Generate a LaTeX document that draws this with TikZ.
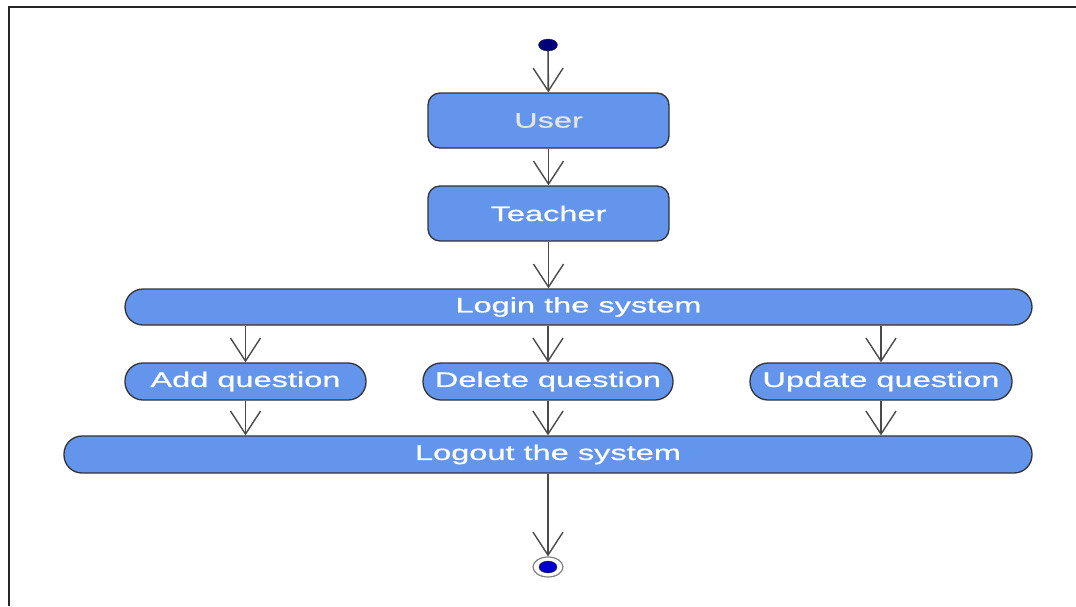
\documentclass[tikz,border=0pt]{standalone}
\usepackage{fontspec}
\newfontfamily\boxfont[FakeStretch=1.55,FakeBold=0.6]{Liberation Sans}
\usetikzlibrary{arrows.meta,shapes.geometric}
\definecolor{boxblue}{HTML}{6495ED}
\definecolor{edgegray}{HTML}{333333}
\definecolor{linegray}{HTML}{4A4A4A}
\definecolor{startnavy}{HTML}{00007A}
\definecolor{endblue}{HTML}{0000CC}
\newcommand\boxlabel[1]{\raisebox{-2pt}{#1}}
\begin{document}
\begin{tikzpicture}[x=1pt,y=-1pt,
  actbox/.style={draw=edgegray, line width=1.3pt, fill=boxblue, rounded corners=12pt,
    text=white, font=\boxfont\fontsize{21}{25}\selectfont, inner sep=0pt, anchor=center},
  pill/.style={actbox, rounded corners=18pt},
  arr/.style={draw=linegray, line width=1.6pt,
    -{Straight Barb[length=23pt,width=30pt,line width=1.4pt]}}
]
\useasboundingbox (0,0) rectangle (1076,606);
% frame
\draw[line width=2.6pt, black!85] (1076,7) -- (9,7) -- (9,606);

% start and end markers
\node[ellipse, draw=edgegray, fill=startnavy, minimum width=19pt, minimum height=12pt, inner sep=0pt] (start) at (548,45) {};
\node[ellipse, draw=gray, line width=1.2pt, fill=white, minimum width=30pt, minimum height=20pt, inner sep=0pt] (finish) at (548,567) {};
\node[ellipse, draw=edgegray, fill=endblue, minimum width=18pt, minimum height=12pt, inner sep=0pt] (finishdot) at (548,567) {};

% activities
\node[actbox, minimum width=241pt, minimum height=55pt, text=gray!20] (user) at (548.5,120.5) {\boxlabel{User}};
\node[actbox, minimum width=241pt, minimum height=55pt] (teacher) at (548.5,213.5) {\boxlabel{Teacher}};
\node[pill, minimum width=907pt, minimum height=36pt] (login) at (578.5,307) {\boxlabel{Login the system}};
\node[pill, minimum width=241pt, minimum height=37pt] (add) at (245.5,381.5) {\boxlabel{Add question}};
\node[pill, minimum width=250pt, minimum height=37pt] (delete) at (548,381.5) {\boxlabel{Delete question}};
\node[pill, minimum width=262pt, minimum height=37pt] (update) at (881,381.5) {\boxlabel{Update question}};
\node[pill, minimum width=968pt, minimum height=37pt] (logout) at (548,454.5) {\boxlabel{Logout the system}};

% transitions
\draw[arr] (start) -- (user);
\draw[arr] (user) -- (teacher);
\draw[arr] (teacher.south) -- (teacher.south |- login.north);
\draw[arr] (login.south -| add.north) -- (add.north);
\draw[arr] (login.south -| delete.north) -- (delete.north);
\draw[arr] (login.south -| update.north) -- (update.north);
\draw[arr] (add.south) -- (add.south |- logout.north);
\draw[arr] (delete.south) -- (delete.south |- logout.north);
\draw[arr] (update.south) -- (update.south |- logout.north);
\draw[arr] (logout.south -| finish.north) -- (finish.north);
\end{tikzpicture}
\end{document}
